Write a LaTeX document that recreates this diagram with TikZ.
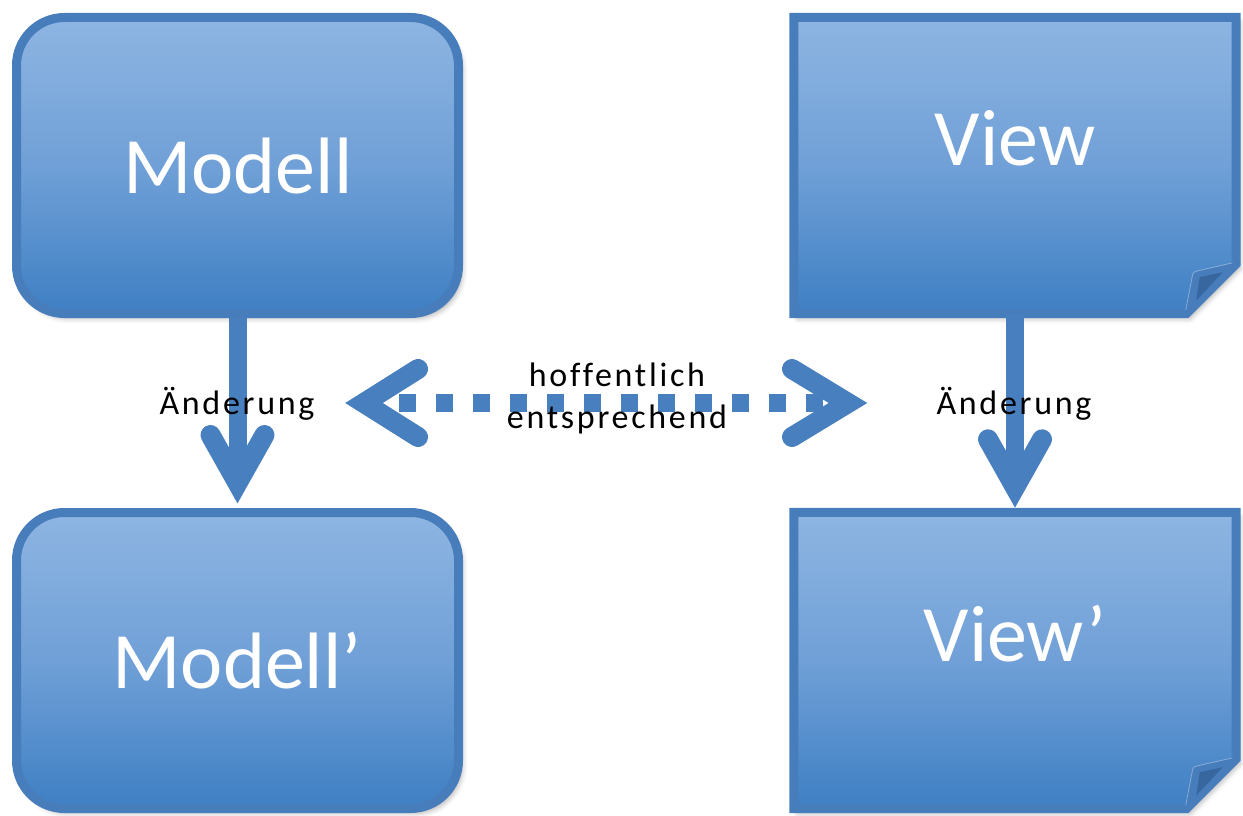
\documentclass[tikz,border=0pt]{standalone}
\usepackage{fontspec}
\setmainfont{Carlito}
\newfontfamily\spacedfont[LetterSpace=8,Ligatures=NoCommon]{Carlito}
\usetikzlibrary{calc,shadows.blur}

\definecolor{boxtop}{RGB}{142,181,226}
\definecolor{boxmid}{RGB}{112,160,215}
\definecolor{boxbot}{RGB}{62,127,195}
\definecolor{edgeblue}{RGB}{72,125,188}
\definecolor{arrowblue}{RGB}{72,127,190}
\definecolor{folddark}{RGB}{56,103,160}

% outline of a sheet with a folded lower right corner, drawn around node #1
\newcommand\foldsheet[1]{%
  \path[sheet] (#1.north west) -- (#1.north east)
    -- ($(#1.south east)+(0,-50)$) -- ($(#1.south east)+(-50,0)$)
    -- (#1.south west) -- cycle;
  \fill[edgeblue] ($(#1.south east)+(-50,0)$) -- ($(#1.south east)+(-50.5,-3.5)$)
    -- ($(#1.south east)+(-43.8,-38)$)
    .. controls ($(#1.south east)+(-43.2,-41.5)$) and ($(#1.south east)+(-41.5,-42.3)$) ..
       ($(#1.south east)+(-38.8,-42.8)$)
    -- ($(#1.south east)+(-3.8,-50.8)$) -- ($(#1.south east)+(0,-50)$) -- cycle;
  \draw[white, opacity=0.35, line width=0.8pt]
    ($(#1.south east)+(-50.5,-3.5)$) -- ($(#1.south east)+(-43.8,-38)$)
    .. controls ($(#1.south east)+(-43.2,-41.5)$) and ($(#1.south east)+(-41.5,-42.3)$) ..
       ($(#1.south east)+(-38.8,-42.8)$)
    -- ($(#1.south east)+(-3.8,-50.8)$);
  \fill[folddark] ($(#1.south east)+(-36.5,-36.5)$) -- ($(#1.south east)+(-13.5,-41.5)$)
    -- ($(#1.south east)+(-40,-13)$) -- cycle;
}

\begin{document}
\begin{tikzpicture}[x=1pt, y=-1pt,
  softshadow/.style={blur shadow={shadow xshift=4pt, shadow yshift=-5pt,
      shadow blur radius=5pt, shadow opacity=30}},
  boxframe/.style={rectangle, minimum width=442pt, minimum height=296pt, inner sep=0pt},
  roundbox/.style={boxframe, draw=edgeblue, line width=9pt, rounded corners=48pt,
      top color=boxtop, bottom color=boxbot, middle color=boxmid, softshadow},
  sheet/.style={draw=edgeblue, line width=9pt, line join=miter,
      top color=boxtop, bottom color=boxbot, middle color=boxmid, softshadow},
  bigtext/.style={text=white, font=\fontsize{80}{96}\selectfont, inner sep=0pt, anchor=base},
  smalltext/.style={text=black, font=\spacedfont\fontsize{34}{40}\selectfont, inner sep=0pt, anchor=base},
  shaft/.style={draw=arrowblue, line width=18pt},
  chevron/.style={draw=arrowblue, line width=20pt, line cap=round, line join=miter},
  dotline/.style={draw=arrowblue, line width=18pt, dash pattern=on 17pt off 20pt, dash phase=2pt}
]
\useasboundingbox (0,0) rectangle (1243,816);

% the four boxes
\node[roundbox] (modell)  at (237.5,165.5) {};
\node[roundbox] (modellp) at (237.5,660.5) {};
\node[boxframe] (view)    at (1015,165.5) {};
\node[boxframe] (viewp)   at (1015,660.5) {};
\foldsheet{view}
\foldsheet{viewp}

\node[bigtext] (tmodell)  at (238,193) {Modell};
\node[bigtext] (tmodellp) at (237,688) {Modell’};
\node[bigtext] (tview)    at (1015,165) {View};
\node[bigtext] (tviewp)   at (1015,661) {View’};

% change arrows
\coordinate (mtip) at ([yshift=25pt]modellp.north);
\coordinate (vtip) at ([yshift=25pt]viewp.north);
\draw[shaft] (modell.south) -- (mtip);
\draw[chevron] ($(mtip)+(-27,-48)$) -- (mtip) -- ($(mtip)+(27,-48)$);
\draw[shaft] (view.south) -- (vtip);
\draw[chevron] ($(vtip)+(-27,-48)$) -- (vtip) -- ($(vtip)+(27,-48)$);

% dotted double arrow between the two sides
\coordinate (ltip) at (364,403);
\coordinate (rtip) at (848,403);
\draw[dotline] (ltip) -- (rtip);
\draw[chevron] ($(ltip)+(54,-34)$) -- (ltip) -- ($(ltip)+(54,34)$);
\draw[chevron] ($(rtip)+(-56,-34)$) -- (rtip) -- ($(rtip)+(-56,34)$);

% labels
\node[smalltext] (lchange) at (237,414) {Änderung};
\node[smalltext] (rchange) at (1014,414) {Änderung};
\node[smalltext] (hope)    at (617,386) {hoffentlich};
\node[smalltext] (match)   at (617,428) {entsprechend};
\end{tikzpicture}
\end{document}
